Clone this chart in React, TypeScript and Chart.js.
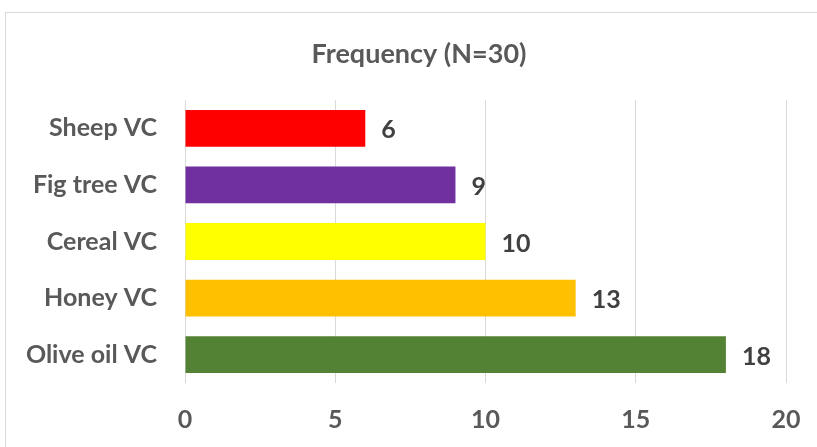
import React, { useEffect, useRef } from "react";
import { Chart, registerables } from "chart.js";

Chart.register(...registerables);

const categories = ["Sheep VC", "Fig tree VC", "Cereal VC", "Honey VC", "Olive oil VC"];
const values = [6, 9, 10, 13, 18];
const barColors = ["#FF0000", "#7030A0", "#FFFF00", "#FFC000", "#548235"];
const xTicks = [0, 5, 10, 15, 20];
const titleText = "Frequency (N=30)";

const FONT = "'Lato', sans-serif";

export default function App() {
  const ref = useRef<HTMLCanvasElement | null>(null);

  useEffect(() => {
    document.body.style.margin = "0";
    const canvas = ref.current;
    if (!canvas) return;

    const borderPlugin = {
      id: "outerBorder",
      beforeDraw(chart: any) {
        const ctx = chart.ctx;
        ctx.save();
        ctx.fillStyle = "#ffffff";
        ctx.fillRect(0, 0, chart.width, chart.height);
        ctx.strokeStyle = "#d9d9d9";
        ctx.lineWidth = 1;
        ctx.strokeRect(5.5, 12.5, chart.width + 20, chart.height + 20);
        ctx.font = `bold 27px ${FONT}`;
        ctx.fillStyle = "#595959";
        ctx.textAlign = "center";
        ctx.textBaseline = "alphabetic";
        ctx.fillText(titleText, 419, 63);
        ctx.restore();
      },
    };

    const labelPlugin = {
      id: "valueLabels",
      afterDatasetsDraw(chart: any) {
        const ctx = chart.ctx;
        const meta = chart.getDatasetMeta(0);
        ctx.save();
        ctx.font = `bold 25px ${FONT}`;
        ctx.fillStyle = "#404040";
        ctx.textAlign = "left";
        ctx.textBaseline = "middle";
        meta.data.forEach((bar: any, i: number) => {
          ctx.fillText(String(values[i]), bar.x + 16, bar.y + 2);
        });
        ctx.restore();
      },
    };

    const chart = new Chart(canvas, {
      type: "bar",
      data: {
        labels: categories,
        datasets: [
          {
            data: values,
            backgroundColor: barColors,
            borderWidth: 0,
            categoryPercentage: 1,
            barPercentage: 0.65,
          },
        ],
      },
      options: {
        indexAxis: "y",
        animation: false,
        responsive: false,
        maintainAspectRatio: false,
        layout: { padding: { left: 0, right: 31, top: 100, bottom: 0 } },
        plugins: {
          legend: { display: false },
          tooltip: { enabled: false },
          title: { display: false },
        },
        scales: {
          x: {
            min: 0,
            max: 20,
            afterBuildTicks(scale: any) {
              scale.ticks = xTicks.map((v) => ({ value: v }));
            },
            afterFit(scale: any) {
              scale.height = 64;
              scale.paddingLeft = 0;
              scale.paddingRight = 0;
            },
            grid: { color: "#d9d9d9", drawTicks: false, lineWidth: 1 },
            border: { display: false },
            ticks: {
              color: "#595959",
              padding: 22,
              font: { family: FONT, size: 25, weight: "bold" },
            },
          },
          y: {
            afterFit(scale: any) {
              scale.width = 185;
            },
            grid: { display: false, drawTicks: false },
            border: { display: false },
            ticks: {
              color: "#595959",
              padding: 28,
              font: { family: FONT, size: 25, weight: "bold" },
            },
          },
        },
      },
      plugins: [borderPlugin, labelPlugin],
    });

    return () => chart.destroy();
  }, []);

  return (
    <div style={{ position: "absolute", left: 0, top: 0, width: 817, height: 447 }}>
      <canvas ref={ref} width={817} height={447} style={{ width: 817, height: 447 }} />
    </div>
  );
}
